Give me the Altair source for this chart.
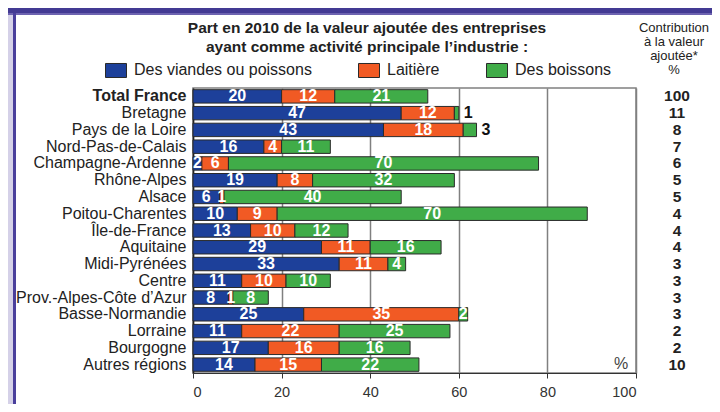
import altair as alt
import pandas as pd

regions = ["Total France", "Bretagne", "Pays de la Loire", "Nord-Pas-de-Calais",
           "Champagne-Ardenne", "Rhône-Alpes", "Alsace", "Poitou-Charentes",
           "Île-de-France", "Aquitaine", "Midi-Pyrénées", "Centre",
           "Prov.-Alpes-Côte d’Azur", "Basse-Normandie", "Lorraine", "Bourgogne",
           "Autres régions"]
viandes = [20, 47, 43, 16, 2, 19, 6, 10, 13, 29, 33, 11, 8, 25, 11, 17, 14]
laitiere = [12, 12, 18, 4, 6, 8, 1, 9, 10, 11, 11, 10, 1, 35, 22, 16, 15]
boissons = [21, 1, 3, 11, 70, 32, 40, 70, 12, 16, 4, 10, 8, 2, 25, 16, 22]
contribution = [100, 11, 8, 7, 6, 5, 5, 4, 4, 4, 3, 3, 3, 3, 2, 2, 10]
series = ["Des viandes ou poissons", "Laitière", "Des boissons"]
colors = ["#1d409a", "#f15a24", "#40ac48"]
outside_labels = [("Bretagne", "Des boissons"), ("Pays de la Loire", "Des boissons")]
x_ticks = [0, 20, 40, 60, 80, 100]

title_lines = ["Part en 2010 de la valeur ajoutée des entreprises",
               "ayant comme activité principale l’industrie :"]
header_text = "Contribution\nà la valeur\najoutée*\n%"

FONT = "Liberation Sans"

rows = []
for i, r in enumerate(regions):
    start = 0
    for s, vals in zip(series, [viandes, laitiere, boissons]):
        v = vals[i]
        rows.append({"region": r, "serie": s, "value": v, "start": start,
                     "end": start + v, "mid": start + v / 2,
                     "outside": (r, s) in outside_labels})
        start += v
df = pd.DataFrame(rows)
df_in = df[~df["outside"]]
df_out = df[df["outside"]]
df_contrib = pd.DataFrame({"region": regions, "contribution": contribution})

yscale = alt.Scale(domain=regions, paddingInner=0.2, paddingOuter=0.1)
xscale = alt.Scale(domain=[0, 100], nice=False)

y_axis = alt.Axis(
    title=None, ticks=False, labelFontSize=16, labelColor="#222222", labelFont=FONT,
    labelPadding=7, domainColor="#222222", domainWidth=1.5, grid=False,
    labelLimit=250,
    labelFontWeight={"condition": {"test": "datum.value === 'Total France'", "value": "bold"},
                     "value": "normal"},
)
x_axis = alt.Axis(
    title=None, values=x_ticks, grid=True, gridColor="#808080", gridWidth=1.5,
    tickColor="#333333", tickSize=5, domainColor="#333333", domainWidth=1.2,
    labelFontSize=14.5, labelColor="#333333", labelFont=FONT, labelPadding=7,
)

bars = alt.Chart(df).mark_bar(stroke="#2a2a2a", strokeWidth=1).encode(
    y=alt.Y("region:N", scale=yscale, axis=y_axis, sort=regions),
    x=alt.X("start:Q", scale=xscale, axis=x_axis),
    x2="end:Q",
    color=alt.Color("serie:N", scale=alt.Scale(domain=series, range=colors),
                    legend=alt.Legend(
                        title=None, orient="none", direction="horizontal",
                        legendX=-88, legendY=-29, padding=0,
                        symbolType="M-1,-0.667L1,-0.667L1,0.667L-1,0.667Z",
                        symbolSize=441, symbolStrokeColor="#2a2a2a",
                        symbolStrokeWidth=1, symbolOpacity=1,
                        labelFontSize=16, labelFont=FONT, labelColor="#222222",
                        labelOffset=7, columnPadding=44, labelLimit=300)),
)

labels_in = alt.Chart(df_in).mark_text(
    color="white", fontWeight="bold", fontSize=16, font=FONT, baseline="middle"
).encode(
    y=alt.Y("region:N", scale=yscale, sort=regions),
    x=alt.X("mid:Q", scale=xscale),
    text="value:Q",
)

labels_out = alt.Chart(df_out).mark_text(
    color="#111111", fontWeight="bold", fontSize=16, font=FONT, baseline="middle",
    align="left", dx=5
).encode(
    y=alt.Y("region:N", scale=yscale, sort=regions),
    x=alt.X("end:Q", scale=xscale),
    text="value:Q",
)

contrib = alt.Chart(df_contrib).mark_text(
    color="#222222", fontWeight="bold", fontSize=15.5, font=FONT, baseline="middle",
    align="center"
).encode(
    y=alt.Y("region:N", scale=yscale, sort=regions),
    x=alt.value(484),
    text="contribution:Q",
)


def text_at(t, x, y, **kw):
    return alt.Chart(pd.DataFrame({"t": [t]})).mark_text(font=FONT, **kw).encode(
        text="t:N", x=alt.value(x), y=alt.value(y))


title1 = text_at(title_lines[0], 174, -60, fontSize=15.5, fontWeight="bold",
                 color="#222222", baseline="middle", align="center")
title2 = text_at(title_lines[1], 174, -41, fontSize=15.5, fontWeight="bold",
                 color="#222222", baseline="middle", align="center")
header = text_at(header_text, 481, -66, fontSize=13, color="#222222",
                 baseline="top", align="center", lineBreak="\n", lineHeight=14)
pct = text_at("%", 428, 276, fontSize=16, color="#444444", baseline="middle",
              align="center")


def band(x, x2, y, y2, color):
    return alt.Chart(pd.DataFrame({"d": [0]})).mark_rect(color=color).encode(
        x=alt.value(x), x2=alt.value(x2), y=alt.value(y), y2=alt.value(y2))


frame = [
    band(-185, 519, -80, -75, "#433a93"),
    band(-185, 519, -75, -73, "#6d63b0"),
    band(-185, -180, -73, 316, "#d5d1e8"),
    band(-180, -177, -75, 316, "#4a3f9c"),
]

chart = alt.layer(
    bars, labels_in, labels_out, contrib, title1, title2, header, pct, *frame
).properties(
    width=443, height=285,
    padding={"left": 185, "top": 80, "right": 76, "bottom": 31},
    autosize=alt.AutoSizeParams(type="none"),
    background="white",
).configure_view(
    stroke="#808080", strokeWidth=1.5
)

chart.save("out.html", embed_options={"renderer": "svg", "actions": False})
